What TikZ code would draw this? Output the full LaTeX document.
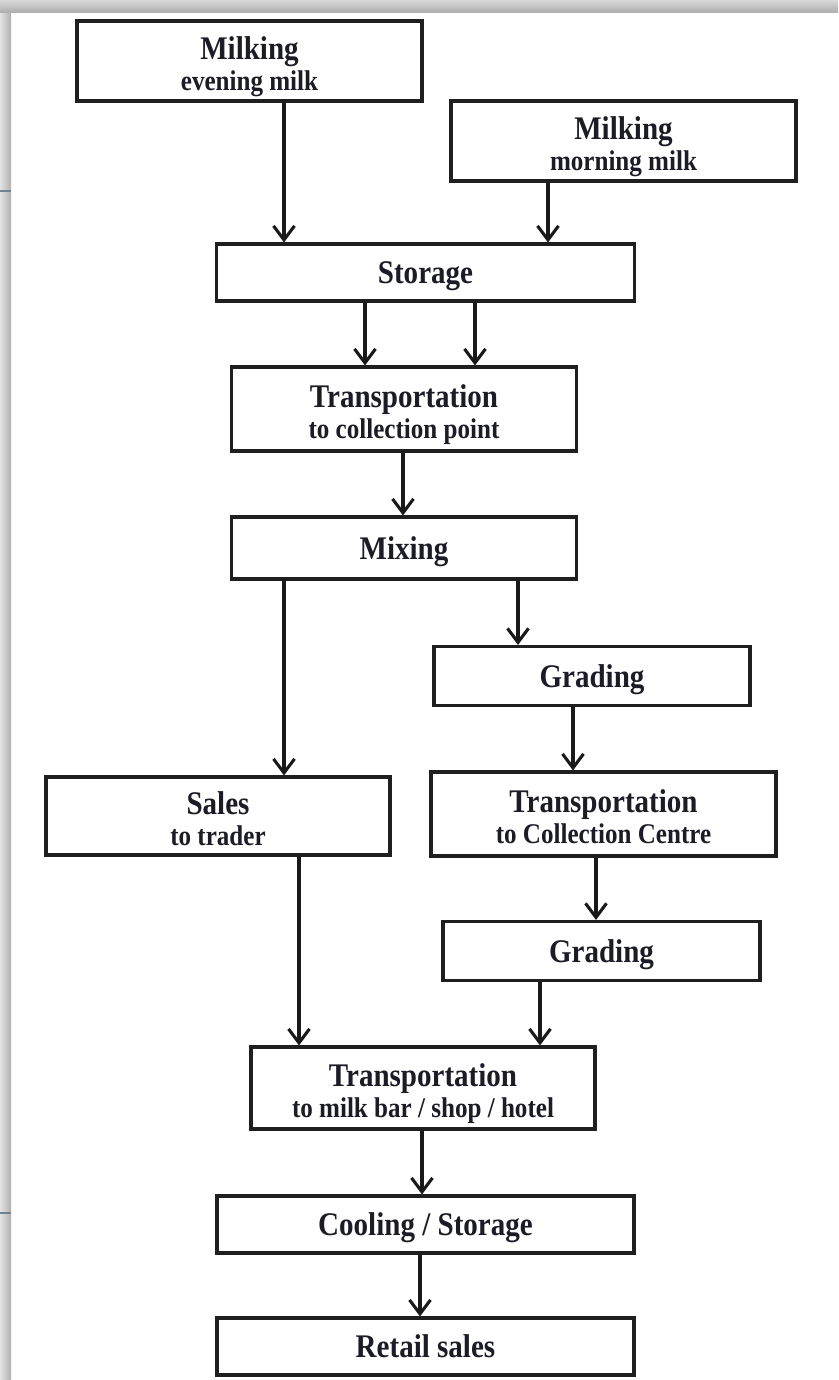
\documentclass[tikz,border=0pt]{standalone}
\usepackage{fontspec}
\setmainfont{Liberation Serif}[FakeStretch=0.88]
\usetikzlibrary{arrows.meta}
\definecolor{txt}{RGB}{28,28,38}
\definecolor{tick}{RGB}{110,130,145}
\newcommand\mainsz{\fontsize{33}{31}\selectfont}
\newcommand\subsz{\fontsize{28.5}{31}\selectfont}
\newcommand\topstrut{\rule{0pt}{35pt}}
\newcommand\botstrut{\rule[-7pt]{0pt}{7pt}}
\tikzset{
  box/.style={draw=black!88, line width=3.1pt, fill=white, inner sep=0pt,
    align=center, text=txt, font=\bfseries\mainsz},
  onel/.style={box, text height=22pt, text depth=0pt},
  arr/.style={draw=black!90, line width=3.1pt, -{Straight Barb[length=14pt,width=21pt,line width=3.1pt]}}
}
\begin{document}
\begin{tikzpicture}[x=1pt,y=-1pt]
\useasboundingbox (0,0) rectangle (838,1380);
\fill[white] (0,0) rectangle (838,1380);
% frame
\fill[left color=gray!22, right color=gray!62] (0,0) rectangle (11,1380);
\fill[top color=gray!30, bottom color=gray!65] (0,0) rectangle (838,13);
\draw[tick, line width=1.5pt] (0,191) -- (11,191);
\draw[tick, line width=1.5pt] (0,1213) -- (11,1213);

% boxes
\node[box, minimum width=345pt, minimum height=80pt] (e1) at (249.5,61)
  {\topstrut Milking\\{\subsz evening milk\botstrut}};
\node[box, minimum width=345pt, minimum height=80pt] (m1) at (623.5,141)
  {\topstrut Milking\\{\subsz morning milk\botstrut}};
\node[onel, minimum width=418pt, minimum height=57pt] (st) at (425.5,272.5) {Storage};
\node[box, minimum width=345pt, minimum height=84pt] (tc) at (404,409)
  {\topstrut Transportation\\{\subsz to collection point\botstrut}};
\node[onel, minimum width=345pt, minimum height=62pt] (mx) at (404,548) {Mixing};
\node[onel, minimum width=316pt, minimum height=59pt] (g1) at (592,676) {Grading};
\node[box, minimum width=344pt, minimum height=78pt] (sl) at (218,816)
  {\topstrut Sales\\{\subsz to trader\botstrut}};
\node[box, minimum width=345pt, minimum height=84pt] (tcc) at (603.5,814)
  {\topstrut Transportation\\{\subsz to Collection Centre\botstrut}};
\node[onel, minimum width=317pt, minimum height=59pt] (g2) at (601.5,951) {Grading};
\node[box, minimum width=344pt, minimum height=82pt] (tm) at (423,1088)
  {\topstrut Transportation\\{\subsz to milk bar / shop / hotel\botstrut}};
\node[onel, minimum width=417pt, minimum height=57pt] (cs) at (425.5,1224.5) {Cooling / Storage};
\node[onel, minimum width=417pt, minimum height=57pt] (rs) at (425.5,1346.5) {Retail sales};

% connectors
\draw[arr] (e1.south -| 284,0) -- (st.north -| 284,0);
\draw[arr] (m1.south -| 548,0) -- (st.north -| 548,0);
\draw[arr] (st.south -| 365,0) -- (tc.north -| 365,0);
\draw[arr] (st.south -| 475,0) -- (tc.north -| 475,0);
\draw[arr] (tc.south -| 403,0) -- (mx.north -| 403,0);
\draw[arr] (mx.south -| 518,0) -- (g1.north -| 518,0);
\draw[arr] (mx.south -| 284,0) -- (sl.north -| 284,0);
\draw[arr] (g1.south -| 573,0) -- (tcc.north -| 573,0);
\draw[arr] (tcc.south -| 596,0) -- (g2.north -| 596,0);
\draw[arr] (sl.south -| 299,0) -- (tm.north -| 299,0);
\draw[arr] (g2.south -| 540,0) -- (tm.north -| 540,0);
\draw[arr] (tm.south -| 422,0) -- (cs.north -| 422,0);
\draw[arr] (cs.south -| 420,0) -- (rs.north -| 420,0);
\end{tikzpicture}
\end{document}
